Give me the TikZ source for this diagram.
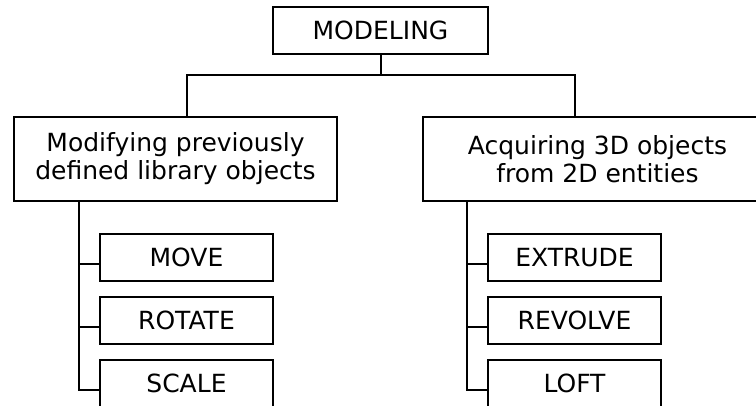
\documentclass[tikz,border=0pt]{standalone}
\usepackage{fontspec}
\setmainfont{DejaVu Sans}
\usetikzlibrary{positioning,calc}

\begin{document}
\begin{tikzpicture}[line width=2pt,every node/.style={shape=rectangle,draw,align=center,inner sep=0pt,outer sep=0pt,font=\fontsize{25}{28}\selectfont},
    op/.style={minimum width=173pt,minimum height=47pt}]
    \useasboundingbox (0,0) rectangle (756pt,-405pt);

    % create the nodes
    \node (model) [minimum width=215pt, minimum height=47pt] at (380.5pt,-30.5pt) {MODELING};
    \node (modify) [below = 63pt of model, xshift=-205pt, minimum width=323pt, minimum height=84pt] {Modifying previously\\defined library objects};
    \node (acquire) [below = 63pt of model, xshift=217pt, minimum width=349pt, minimum height=84pt] {Acquiring 3D objects\\from 2D entities};
    \node (move) [op, below = 33pt of modify, xshift=11pt] {MOVE};
    \node (rotate) [op, below = 16pt of move] {ROTATE};
    \node (scale) [op, below = 16pt of rotate] {SCALE};
    \node (extrude) [op, below = 33pt of acquire, xshift=-23pt] {EXTRUDE};
    \node (revolve) [op, below = 16pt of extrude] {REVOLVE};
    \node (loft) [op, below = 16pt of revolve] {LOFT};

    % connect the nodes
    \coordinate (bus) at ($(model.south)+(0,-21pt)$);
    \draw (model) -- (bus);
    \draw (move |- modify.north) |- (bus) -| (extrude |- acquire.north);

    \coordinate (ltrunk) at ($(modify.south -| move.west)+(-21pt,0)$);
    \draw (ltrunk) |- ([yshift=-6pt]move.west);
    \draw (ltrunk) |- ([yshift=-6pt]rotate.west);
    \draw (ltrunk) |- ([yshift=-6pt]scale.west);

    \coordinate (rtrunk) at ($(acquire.south -| extrude.west)+(-21pt,0)$);
    \draw (rtrunk) |- ([yshift=-6pt]extrude.west);
    \draw (rtrunk) |- ([yshift=-6pt]revolve.west);
    \draw (rtrunk) |- ([yshift=-6pt]loft.west);

\end{tikzpicture}
\end{document}
